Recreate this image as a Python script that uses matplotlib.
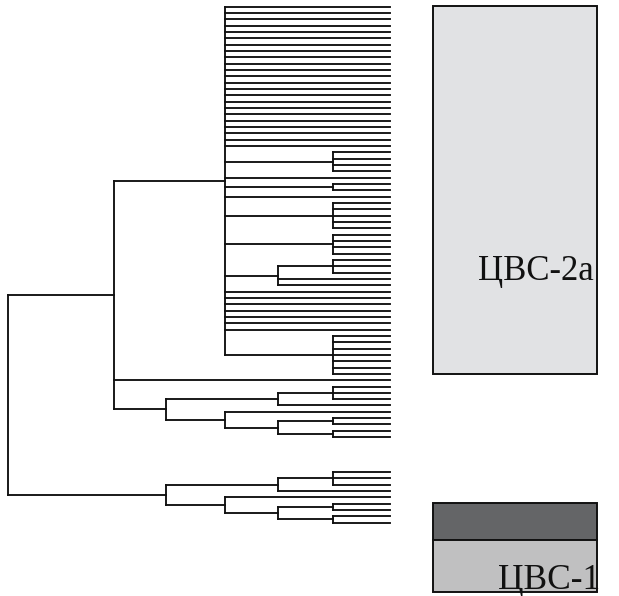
import matplotlib
matplotlib.use("Agg")
import matplotlib.pyplot as plt
from matplotlib.patches import Rectangle

# node heights by level (leaves sit at level 0)
levels = [0.0, 0.57, 1.12, 1.65, 2.24, 2.76, 3.82]


def grp(n):
    # n leaves joined at the lowest level
    return (1, [None] * n)


# tree structure: (level, children); None is a leaf
cluster_2a = (3, [None] * 23
              + [grp(4), None, grp(2), None, grp(5), grp(4),
                 (2, [grp(3), None, None])]
              + [None] * 7
              + [grp(7)])
cluster_2b = (4, [(2, [grp(3), None]),
                  (3, [None, (2, [grp(2), grp(2)])])])
cluster_2 = (5, [cluster_2a, None, cluster_2b])
cluster_1 = (4, [(2, [grp(3), None]),
                 (3, [None, (2, [grp(2), grp(2)])])])
root_level = 6

cluster_names = ["ЦВС-2а", "ЦВС-1"]

W, H = 619, 596
GAP = 4.5  # empty rows between the two big clusters
LW = 1.35
INK = "#111111"


def walk(node, parent_h, pos, segs):
    if node is None:
        y = pos[0]
        pos[0] += 1
        segs.append(((parent_h, 0.0), (y, y)))
        return y
    lvl, kids = node
    h = levels[lvl]
    ys = [walk(k, h, pos, segs) for k in kids]
    segs.append(((h, h), (min(ys), max(ys))))
    y = (min(ys) + max(ys)) / 2
    if parent_h is not None:
        segs.append(((parent_h, h), (y, y)))
    return y


pos = [0.0]
segs = []
h_root = levels[root_level]
y2 = walk(cluster_2, h_root, pos, segs)
pos[0] += GAP
y1 = walk(cluster_1, h_root, pos, segs)
segs.append(((h_root, h_root), (y2, y1)))
last = pos[0] - 1

fig = plt.figure(figsize=(W / 100, H / 100), dpi=100)

top_px, bot_px = 6.7, 522.6
ax = fig.add_axes([8 / W, (H - bot_px) / H, (390 - 8) / W, (bot_px - top_px) / H])
for xs, ys in segs:
    ax.plot(xs, ys, color=INK, lw=LW, solid_capstyle="projecting", clip_on=False)
ax.set_xlim(h_root, 0)
ax.set_ylim(last, 0)
ax.axis("off")

# cluster boxes and labels, in pixel space
ov = fig.add_axes([0, 0, 1, 1])
ov.set_xlim(0, W)
ov.set_ylim(H, 0)
ov.axis("off")
ov.add_patch(Rectangle((432.7, 6), 164.6, 368.3, facecolor="#e1e2e4",
                       edgecolor=INK, lw=1.4))
ov.add_patch(Rectangle((432.7, 502.7), 164.6, 37.3, facecolor="#646567",
                       edgecolor=INK, lw=1.4))
ov.add_patch(Rectangle((432.7, 540), 164.6, 51.7, facecolor="#c0c0c1",
                       edgecolor=INK, lw=1.4))

serif = ["Liberation Serif", "DejaVu Serif"]
ov.text(478, 280, cluster_names[0], family=serif, fontsize=25, color=INK,
        ha="left", va="baseline")
ov.text(498, 589, cluster_names[1], family=serif, fontsize=25.5, color=INK,
        ha="left", va="baseline")

fig.savefig("out.png", dpi=100)
